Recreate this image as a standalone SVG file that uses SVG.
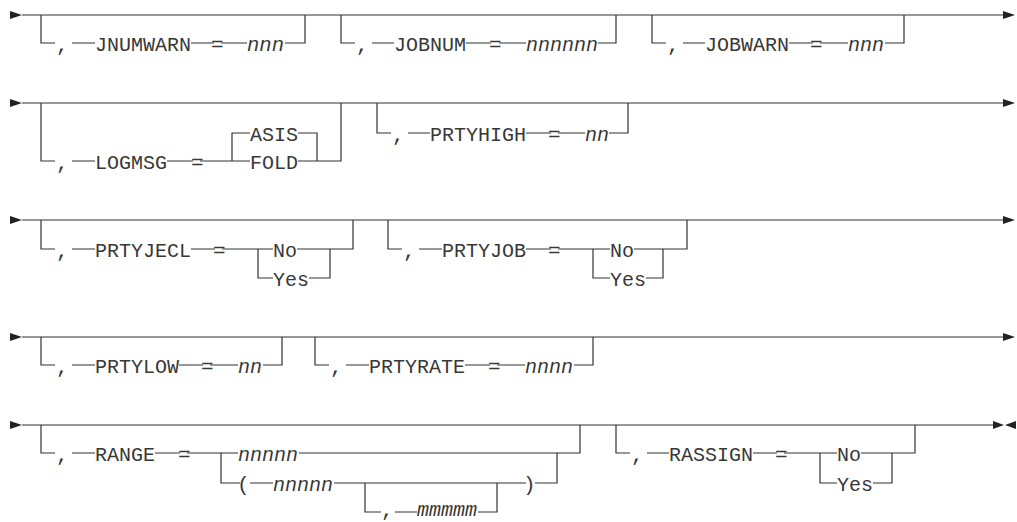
<svg xmlns="http://www.w3.org/2000/svg" width="1017" height="522" viewBox="0 0 1017 522">
<style>
.l{fill:none;stroke:#333;stroke-width:1.2}
.a{fill:#222;stroke:none}
text{font-family:"Liberation Mono","DejaVu Sans Mono",monospace;font-size:21px;fill:#383838}
.i{font-style:italic}
</style>
<rect width="1017" height="522" fill="#fff"/>
<g id="connectors">
<path class="l" d="M22,15 H1003"/>
<polygon class="a" points="10,11 22,15 10,19"/>
<polygon class="a" points="1003,11 1015,15 1003,19"/>
<path class="l" d="M41,15 V43 H55 M72,43 H95 M191,43 H214 M221,43 H247 M285,43 H305 V15"/>
<path class="l" d="M341,15 V43 H355 M372,43 H394 M466,43 H491 M499,43 H526 M598,43 H616 V15"/>
<path class="l" d="M652,15 V43 H666 M683,43 H705 M789,43 H813 M820,43 H848 M885,43 H904 V15"/>
<path class="l" d="M22,103 H1003"/>
<polygon class="a" points="10,99 22,103 10,107"/>
<polygon class="a" points="1003,99 1015,103 1003,107"/>
<path class="l" d="M41,103 V161 H55 M72,161 H95 M167,161 H193 M200,161 H250 M232,161 V133 H250 M298,133 H317 V161 M298,161 H341 V103"/>
<path class="l" d="M377,103 V133 H391 M408,133 H430 M526,133 H551 M558,133 H585 M609,133 H628 V103"/>
<path class="l" d="M22,220 H1003"/>
<polygon class="a" points="10,216 22,220 10,224"/>
<polygon class="a" points="1003,216 1015,220 1003,224"/>
<path class="l" d="M41,220 V249 H55 M72,249 H95 M191,249 H215 M222,249 H273 M258,249 V278 H273 M297,249 H353 V220 M309,278 H330 V249"/>
<path class="l" d="M388,220 V249 H402 M419,249 H442 M526,249 H551 M558,249 H610 M593,249 V278 H610 M634,249 H687 V220 M646,278 H663 V249"/>
<path class="l" d="M22,337 H1003"/>
<polygon class="a" points="10,333 22,337 10,341"/>
<polygon class="a" points="1003,333 1015,337 1003,341"/>
<path class="l" d="M41,337 V365 H55 M72,365 H95 M179,365 H203 M210,365 H238 M263,365 H282 V337"/>
<path class="l" d="M315,337 V365 H329 M346,365 H369 M465,365 H490 M497,365 H525 M574,365 H593 V337"/>
<path class="l" d="M22,425 H993"/>
<polygon class="a" points="10,421 22,425 10,429"/>
<polygon class="a" points="993,421 1004,425 993,429"/>
<polygon class="a" points="1016,421 1005,425 1016,429"/>
<path class="l" d="M41,425 V453 H55 M72,453 H95 M155,453 H180 M187,453 H238 M221,453 V483 H240 M299,453 H580 V425"/>
<path class="l" d="M250,483 H273 M334,483 H526 M365,483 V512 H381 M395,512 H417 M478,512 H497 V483 M535,483 H557 V453"/>
<path class="l" d="M616,425 V453 H630 M647,453 H669 M753,453 H777 M784,453 H837 M820,453 V483 H837 M861,453 H915 V425 M873,483 H892 V453"/>
</g>
<g id="jnumwarn"><text x="56" y="51">,</text><text x="95" y="51" textLength="96" lengthAdjust="spacingAndGlyphs">JNUMWARN</text><text x="211" y="51">=</text><text class="i" x="247" y="51" textLength="37" lengthAdjust="spacingAndGlyphs">nnn</text></g>
<g id="jobnum"><text x="356" y="51">,</text><text x="394" y="51" textLength="72" lengthAdjust="spacingAndGlyphs">JOBNUM</text><text x="489" y="51">=</text><text class="i" x="526" y="51" textLength="72" lengthAdjust="spacingAndGlyphs">nnnnnn</text></g>
<g id="jobwarn"><text x="667" y="51">,</text><text x="705" y="51" textLength="84" lengthAdjust="spacingAndGlyphs">JOBWARN</text><text x="810" y="51">=</text><text class="i" x="848" y="51" textLength="36" lengthAdjust="spacingAndGlyphs">nnn</text></g>
<g id="logmsg"><text x="56" y="169">,</text><text x="95" y="169" textLength="72" lengthAdjust="spacingAndGlyphs">LOGMSG</text><text x="191" y="169">=</text><text x="250" y="141" textLength="48" lengthAdjust="spacingAndGlyphs">ASIS</text><text x="250" y="169" textLength="48" lengthAdjust="spacingAndGlyphs">FOLD</text></g>
<g id="prtyhigh"><text x="392" y="141">,</text><text x="430" y="141" textLength="96" lengthAdjust="spacingAndGlyphs">PRTYHIGH</text><text x="548" y="141">=</text><text class="i" x="585" y="141" textLength="24" lengthAdjust="spacingAndGlyphs">nn</text></g>
<g id="prtyjecl"><text x="56" y="257">,</text><text x="95" y="257" textLength="96" lengthAdjust="spacingAndGlyphs">PRTYJECL</text><text x="213" y="257">=</text><text x="273" y="257" textLength="24" lengthAdjust="spacingAndGlyphs">No</text><text x="273" y="286" textLength="36" lengthAdjust="spacingAndGlyphs">Yes</text></g>
<g id="prtyjob"><text x="403" y="257">,</text><text x="442" y="257" textLength="84" lengthAdjust="spacingAndGlyphs">PRTYJOB</text><text x="548" y="257">=</text><text x="610" y="257" textLength="24" lengthAdjust="spacingAndGlyphs">No</text><text x="610" y="286" textLength="36" lengthAdjust="spacingAndGlyphs">Yes</text></g>
<g id="prtylow"><text x="56" y="373">,</text><text x="95" y="373" textLength="84" lengthAdjust="spacingAndGlyphs">PRTYLOW</text><text x="201" y="373">=</text><text class="i" x="238" y="373" textLength="24" lengthAdjust="spacingAndGlyphs">nn</text></g>
<g id="prtyrate"><text x="330" y="373">,</text><text x="369" y="373" textLength="96" lengthAdjust="spacingAndGlyphs">PRTYRATE</text><text x="488" y="373">=</text><text class="i" x="525" y="373" textLength="48" lengthAdjust="spacingAndGlyphs">nnnn</text></g>
<g id="range"><text x="56" y="461">,</text><text x="95" y="461" textLength="60" lengthAdjust="spacingAndGlyphs">RANGE</text><text x="178" y="461">=</text><text class="i" x="238" y="461" textLength="60" lengthAdjust="spacingAndGlyphs">nnnnn</text><text x="237" y="491">(</text><text class="i" x="273" y="491" textLength="60" lengthAdjust="spacingAndGlyphs">nnnnn</text><text x="381" y="516">,</text><text class="i" x="417" y="516" textLength="60" lengthAdjust="spacingAndGlyphs">mmmmm</text><text x="523" y="491">)</text></g>
<g id="rassign"><text x="631" y="461">,</text><text x="669" y="461" textLength="84" lengthAdjust="spacingAndGlyphs">RASSIGN</text><text x="775" y="461">=</text><text x="837" y="461" textLength="24" lengthAdjust="spacingAndGlyphs">No</text><text x="837" y="491" textLength="36" lengthAdjust="spacingAndGlyphs">Yes</text></g>
</svg>
